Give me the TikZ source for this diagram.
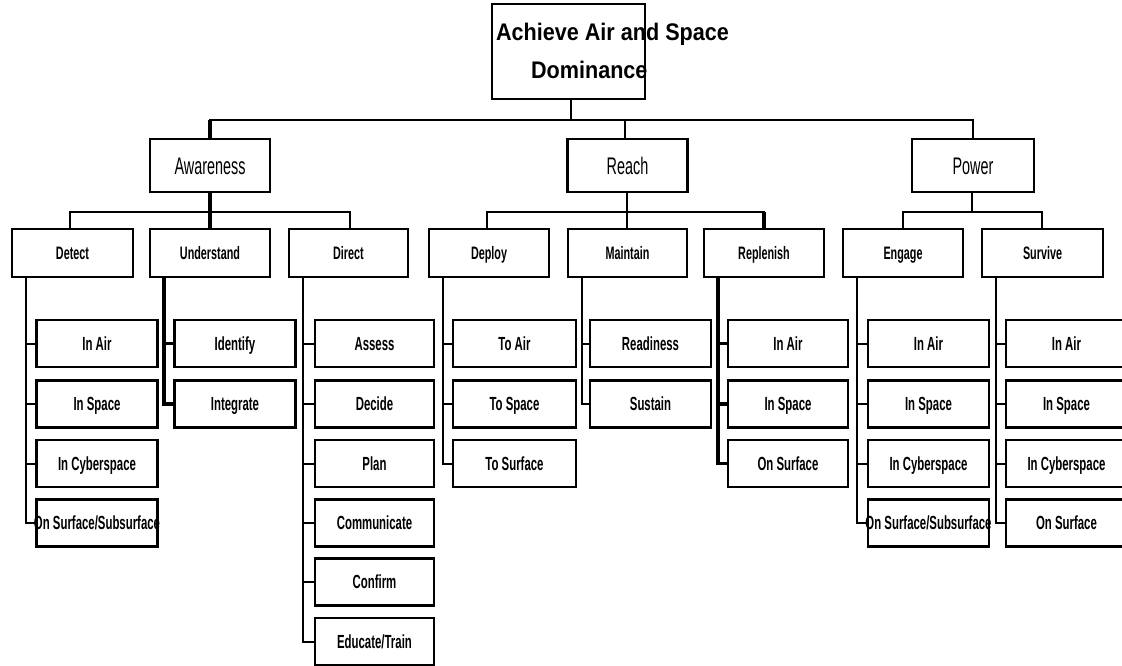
\documentclass[tikz,border=0pt]{standalone}
\usepackage{fontspec}
\newfontfamily\pixfont[FakeStretch=0.6]{Liberation Sans}
\newfontfamily\rootfam[FakeStretch=0.9]{Liberation Sans}
\newcommand\boxtxt[1]{\makebox[0pt][c]{#1}}
\begin{document}
\begin{tikzpicture}[x=1pt,y=-1pt,
  box/.style={draw, line width=2.3pt, inner sep=0pt},
  rootbox/.style={box, minimum width=153pt, minimum height=95pt,
    font=\rootfam\bfseries\fontsize{24}{38}\selectfont},
  lvlone/.style={box, minimum width=120pt, minimum height=53pt,
    font=\pixfont\fontsize{24}{28}\selectfont, text height=17.2pt, text depth=0pt},
  lvltwo/.style={box, minimum width=120pt, minimum height=48pt,
    font=\pixfont\bfseries\fontsize{18}{22}\selectfont, text height=12.9pt, text depth=0pt},
  leaf/.style={box, minimum width=121pt, minimum height=47pt,
    font=\pixfont\bfseries\fontsize{19}{22}\selectfont, text height=13.6pt, text depth=0pt},
  link/.style={line width=2pt},
  heavy/.style={line width=3.6pt}]
\useasboundingbox (0,0) rectangle (1122,666);

% root
\node[rootbox] (root) at (568.5,51.5) {\boxtxt{\hspace{88pt}\begin{tabular}{@{}l@{}}Achieve Air and Space\\\hspace{35pt}Dominance\end{tabular}}};

% level 1
\node[lvlone] (aw) at (210,165.5) {\boxtxt{Awareness}};
\node[lvlone] (re) at (627.5,165.5) {\boxtxt{Reach}};
\node[lvlone, minimum width=122pt] (pw) at (973,165.5) {\boxtxt{Power}};

% level 2
\node[lvltwo, minimum width=121pt] (det) at (72.5,253) {\boxtxt{Detect}};
\node[lvltwo] (und) at (210,253) {\boxtxt{Understand}};
\node[lvltwo, minimum width=119pt] (dir) at (348.5,253) {\boxtxt{Direct}};
\node[lvltwo] (dep) at (489,253) {\boxtxt{Deploy}};
\node[lvltwo, minimum width=119pt] (mai) at (627.5,253) {\boxtxt{Maintain}};
\node[lvltwo] (rep) at (764,253) {\boxtxt{Replenish}};
\node[lvltwo] (eng) at (903,253) {\boxtxt{Engage}};
\node[lvltwo, minimum width=121pt] (sur) at (1042.5,253) {\boxtxt{Survive}};

% leaves: Detect
\node[leaf] (detA) at (97,343.5) {\boxtxt{In Air}};
\node[leaf] (detB) at (97,404) {\boxtxt{In Space}};
\node[leaf] (detC) at (97,463.5) {\boxtxt{In Cyberspace}};
\node[leaf] (detD) at (97,523) {\boxtxt{On Surface/Subsurface}};
% Understand
\node[leaf] (undA) at (235,343.5) {\boxtxt{Identify}};
\node[leaf] (undB) at (235,404) {\boxtxt{Integrate}};
% Direct
\node[leaf, minimum width=119pt] (dirA) at (374.5,343.5) {\boxtxt{Assess}};
\node[leaf, minimum width=119pt] (dirB) at (374.5,404) {\boxtxt{Decide}};
\node[leaf, minimum width=119pt] (dirC) at (374.5,463.5) {\boxtxt{Plan}};
\node[leaf, minimum width=119pt] (dirD) at (374.5,523) {\boxtxt{Communicate}};
\node[leaf, minimum width=119pt] (dirE) at (374.5,582) {\boxtxt{Confirm}};
\node[leaf, minimum width=119pt] (dirF) at (374.5,641.5) {\boxtxt{Educate/Train}};
% Deploy
\node[leaf, minimum width=123pt] (depA) at (514.5,343.5) {\boxtxt{To Air}};
\node[leaf, minimum width=123pt] (depB) at (514.5,404) {\boxtxt{To Space}};
\node[leaf, minimum width=123pt] (depC) at (514.5,463.5) {\boxtxt{To Surface}};
% Maintain
\node[leaf] (maiA) at (650.5,343.5) {\boxtxt{Readiness}};
\node[leaf] (maiB) at (650.5,404) {\boxtxt{Sustain}};
% Replenish
\node[leaf, minimum width=120pt] (repA) at (788,343.5) {\boxtxt{In Air}};
\node[leaf, minimum width=120pt] (repB) at (788,404) {\boxtxt{In Space}};
\node[leaf, minimum width=120pt] (repC) at (788,463.5) {\boxtxt{On Surface}};
% Engage
\node[leaf] (engA) at (928.5,343.5) {\boxtxt{In Air}};
\node[leaf] (engB) at (928.5,404) {\boxtxt{In Space}};
\node[leaf] (engC) at (928.5,463.5) {\boxtxt{In Cyberspace}};
\node[leaf] (engD) at (928.5,523) {\boxtxt{On Surface/Subsurface}};
% Survive
\node[leaf] (surA) at (1066.5,343.5) {\boxtxt{In Air}};
\node[leaf] (surB) at (1066.5,404) {\boxtxt{In Space}};
\node[leaf] (surC) at (1066.5,463.5) {\boxtxt{In Cyberspace}};
\node[leaf] (surD) at (1066.5,523) {\boxtxt{On Surface}};

% root to level 1
\path ([xshift=2.5pt]root.south) ++(0,20) coordinate (rj);
\draw[link] ([xshift=2.5pt]root.south) -- (rj);
\draw[link] (rj) -| (aw.north);
\draw[heavy] (aw.north) -- (aw.north |- rj);
\draw[link] (rj) -| ([xshift=-2.5pt]re.north);
\draw[link] (rj) -| (pw.north);

% level 1 to level 2
\path (aw.south) ++(0,18.5) coordinate (awj);
\draw[heavy] (aw.south) -- (und.north);
\draw[link] (awj) -| ([xshift=-2.5pt]det.north);
\draw[link] (awj) -| ([xshift=1.5pt]dir.north);
\path ([xshift=-1pt]re.south) ++(0,18.5) coordinate (rej);
\draw[link] ([xshift=-1pt]re.south) -- (rej);
\draw[link] (rej) -| ([xshift=-2pt]dep.north);
\draw[link] (rej) -- ([xshift=-1pt]mai.north);
\draw[link] (rej) -| (rep.north);
\draw[heavy] (rep.north) -- (rep.north |- rej);
\path ([xshift=-1pt]pw.south) ++(0,18.5) coordinate (pwj);
\draw[link] ([xshift=-1pt]pw.south) -- (pwj);
\draw[link] (pwj) -| (eng.north);
\draw[link] (pwj) -| ([xshift=-0.5pt]sur.north);

% level 2 to leaves
\foreach \p/\l in {det/detA,det/detB,det/detC,det/detD,
                   dir/dirA,dir/dirB,dir/dirC,dir/dirD,dir/dirE,dir/dirF,
                   dep/depA,dep/depB,dep/depC,
                   mai/maiA,mai/maiB,
                   eng/engA,eng/engB,eng/engC,eng/engD,
                   sur/surA,sur/surB,sur/surC,sur/surD}
  \draw[link] ([xshift=15pt]\p.south west) |- (\l.west);
\foreach \p/\l in {und/undA,und/undB,rep/repA,rep/repB,rep/repC}
  \draw[heavy] ([xshift=15pt]\p.south west) |- (\l.west);
\end{tikzpicture}
\end{document}
